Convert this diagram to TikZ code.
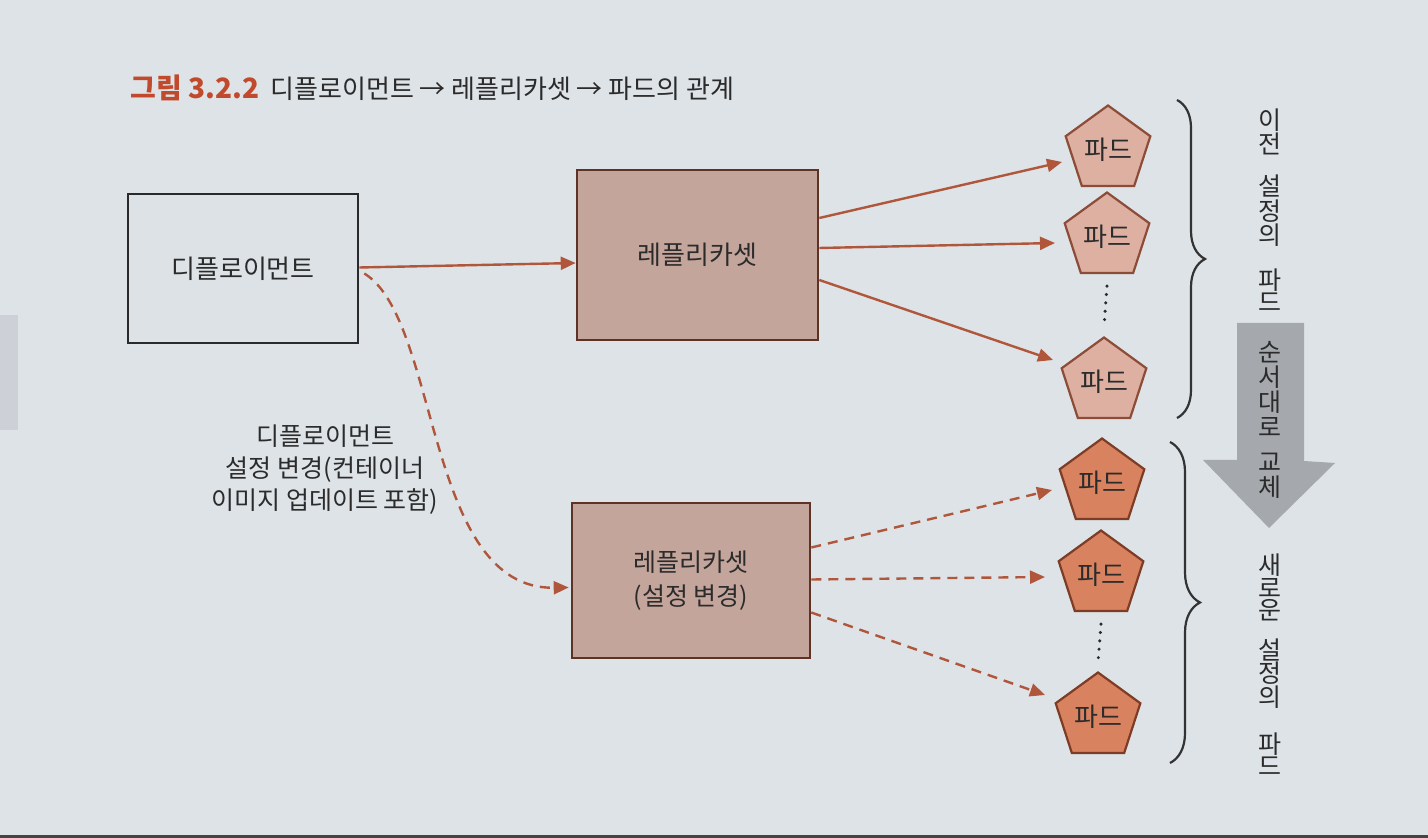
\documentclass[tikz,border=0pt]{standalone}
\usepackage{fontspec}
\setmainfont{Noto Sans CJK KR}
\newfontfamily\kr{Noto Sans CJK KR}
\usetikzlibrary{shapes.geometric,arrows.meta,decorations.pathreplacing,calc}
\definecolor{bgc}{HTML}{DEE3E7}
\definecolor{depfill}{HTML}{DCE2E6}
\definecolor{depdraw}{HTML}{2A2A2A}
\definecolor{rsfill}{HTML}{C4A59B}
\definecolor{rsdraw}{HTML}{5E3326}
\definecolor{podAfill}{HTML}{DDB0A2}
\definecolor{podAdraw}{HTML}{8C4C38}
\definecolor{podBfill}{HTML}{D9825F}
\definecolor{podBdraw}{HTML}{7D3C25}
\definecolor{arrowc}{HTML}{B0573B}
\definecolor{titlec}{HTML}{C24A2C}
\definecolor{txtc}{HTML}{2B2B2B}
\definecolor{greyc}{HTML}{A5A9AD}
\definecolor{bracec}{HTML}{333333}
\definecolor{tabc}{HTML}{CDD0D7}
\begin{document}
\begin{tikzpicture}[x=0.5pt,y=-0.5pt,
  txt/.style={font=\kr\fontsize{13pt}{16pt}\selectfont, text=txtc},
  depbox/.style={draw=depdraw, line width=1.3pt, fill=depfill, minimum width=115pt, minimum height=74.5pt, inner sep=0pt, txt},
  rsbox/.style={draw=rsdraw, line width=1.3pt, fill=rsfill, inner sep=0pt, txt, align=center},
  pod/.style={regular polygon, regular polygon sides=5, minimum size=44.5pt, inner sep=0pt, line width=1.1pt, txt},
  podold/.style={pod, fill=podAfill, draw=podAdraw},
  podnew/.style={pod, fill=podBfill, draw=podBdraw},
  link/.style={draw=arrowc, line width=1.2pt, -{Triangle[length=7.5pt,width=6.5pt]}},
  dlink/.style={link, dash pattern=on 5pt off 3.5pt},
  dots/.style={draw=txtc, line width=1.7pt, line cap=round, dash pattern=on 0pt off 4.2pt},
  bracedraw/.style={draw=bracec, line width=1.1pt, decorate},
  vtext/.style={align=center, text=txtc, inner sep=0pt},
]
\fill[bgc] (0,0) rectangle (1428,838);
\useasboundingbox (0,0) rectangle (1428,838);
\fill[tabc] (0,315) rectangle (18,430);
\fill[black!70!bgc] (0,835) rectangle (1428,838);

% title
\node[anchor=base west, inner sep=0pt, font=\kr\bfseries\fontsize{14pt}{16pt}\selectfont, text=titlec] (t1) at (130,99) {그림 3.2.2};
\node[anchor=base west, inner sep=0pt, font=\kr\fontsize{13pt}{16pt}\selectfont, text=txtc] (t2) at (270,99) {디플로이먼트 → 레플리카셋 → 파드의 관계};

% boxes
\node[depbox] (dep) at (243,268.5) {디플로이먼트};
\node[rsbox, minimum width=120.5pt, minimum height=85pt] (rs1) at (697.5,255) {레플리카셋};
\node[rsbox, minimum width=119pt, minimum height=77.5pt, font=\kr\fontsize{12.5pt}{17pt}\selectfont] (rs2) at (691,580.5) {레플리카셋\\(설정 변경)};

% label
\node[align=center, text=txtc, font=\kr\fontsize{12.5pt}{16pt}\selectfont] (lbl) at (325,470) {디플로이먼트\\설정 변경(컨테이너\\이미지 업데이트 포함)};

% pods
\node[podold] (p1) at (1108,150) {파드};
\node[podold] (p2) at (1107,237) {파드};
\node[podold] (p3) at (1104,382) {파드};
\node[podnew] (q1) at (1102,483) {파드};
\node[podnew] (q2) at (1101,575) {파드};
\node[podnew] (q3) at (1098,717) {파드};

\draw[dots] ($(p2.south)+(0,12)$) -- ($(p3.north)+(0,-9)$);
\draw[dots] ($(q2.south)+(0,12)$) -- ($(q3.north)+(0,-9)$);

% connectors
\draw[link] ($(dep.east)+(0,-1)$) -- ($(rs1.west)+(0,8)$);
\draw[dlink] ($(dep.east)+(5,5)$) .. controls (440,320) and (425,590) .. ($(rs2.west)+(-2,7)$);
\draw[link] ($(rs1.east)+(0,-37)$) -- ($(p1)+(-46,12)$);
\draw[link] ($(rs1.east)+(0,-7)$) -- ($(p2)+(-52,6)$);
\draw[link] ($(rs1.east)+(0,25)$) -- ($(p3)+(-51,-22)$);
\draw[dlink] ($(rs2.east)+(0,-33)$) -- ($(q1)+(-50,7)$);
\draw[dlink] ($(rs2.east)+(0,-1)$) -- ($(q2)+(-56,2)$);
\draw[dlink] ($(rs2.east)+(0,32)$) -- ($(q3)+(-53,-22)$);

% braces
\coordinate (b1t) at (1177,100);
\coordinate (b1b) at (1177,418);
\coordinate (b2t) at (1170,442);
\coordinate (b2b) at (1170,763);
\draw[bracedraw, decoration={brace, amplitude=14pt}] (b1t) -- (b1b);
\draw[bracedraw, decoration={brace, amplitude=15pt}] (b2t) -- (b2b);

% grey arrow
\fill[greyc] (1237,323) -- (1304,323) -- (1304,461) -- (1335,463) -- (1269,528) -- (1203,460) -- (1237,460) -- cycle;

% vertical texts
\node[vtext, font=\kr\fontsize{12.5pt}{11pt}\selectfont] (v1) at (1270,210) {이\\전\\[9pt]설\\정\\의\\[10pt]파\\드};
\node[vtext, font=\kr\fontsize{12.5pt}{12.5pt}\selectfont] (v2) at (1270,420) {순\\서\\대\\로\\[5pt]교\\체};
\node[vtext, font=\kr\fontsize{12.5pt}{11.2pt}\selectfont] (v3) at (1270,665) {새\\로\\운\\[9pt]설\\정\\의\\[11pt]파\\드};
\end{tikzpicture}
\end{document}
